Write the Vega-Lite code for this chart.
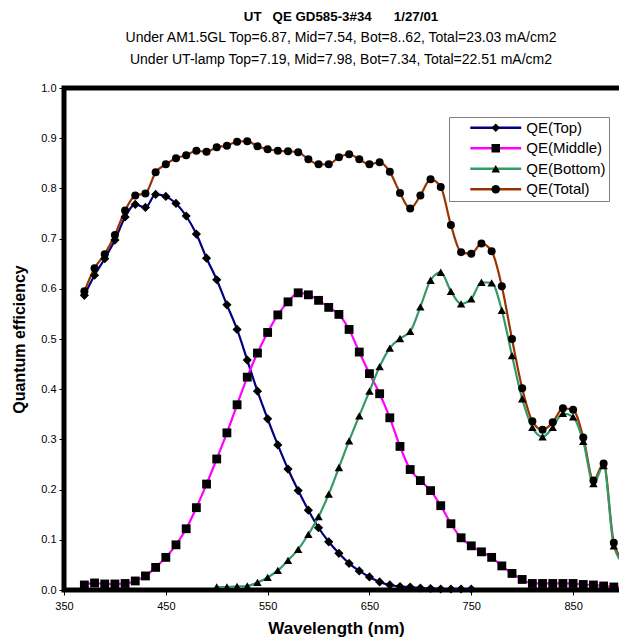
{
  "$schema": "https://vega.github.io/schema/vega-lite/v6.json",
  "width": 560,
  "height": 502,
  "autosize": {"type": "none"},
  "padding": {"left": 64, "top": 88, "right": 0, "bottom": 52},
  "background": "white",
  "config": {
    "view": {"stroke": "black", "strokeWidth": 5},
    "font": "Liberation Sans"
  },
  "title": {
    "text": "UT\u00a0\u00a0 QE GD585-3#34\u00a0\u00a0\u00a0\u00a0\u00a0 1/27/01",
    "subtitle": [
      "Under AM1.5GL Top=6.87, Mid=7.54, Bot=8..62, Total=23.03 mA/cm2",
      "Under UT-lamp Top=7.19, Mid=7.98, Bot=7.34, Total=22.51 mA/cm2"
    ],
    "anchor": "middle",
    "dx": -3,
    "font": "Liberation Sans",
    "fontSize": 13.3,
    "fontWeight": "bold",
    "color": "black",
    "subtitleFont": "Liberation Sans",
    "subtitleFontSize": 14,
    "subtitleColor": "black",
    "subtitleLineHeight": 22,
    "subtitlePadding": 8,
    "offset": 15
  },
  "data": {
    "values": [
      {"wl": 370, "QE(Top)": 0.587, "QE(Middle)": 0.010, "QE(Bottom)": null, "QE(Total)": 0.595},
      {"wl": 380, "QE(Top)": 0.627, "QE(Middle)": 0.014, "QE(Bottom)": null, "QE(Total)": 0.641},
      {"wl": 390, "QE(Top)": 0.660, "QE(Middle)": 0.012, "QE(Bottom)": null, "QE(Total)": 0.669},
      {"wl": 400, "QE(Top)": 0.697, "QE(Middle)": 0.012, "QE(Bottom)": null, "QE(Total)": 0.707},
      {"wl": 410, "QE(Top)": 0.743, "QE(Middle)": 0.013, "QE(Bottom)": null, "QE(Total)": 0.756},
      {"wl": 420, "QE(Top)": 0.768, "QE(Middle)": 0.018, "QE(Bottom)": null, "QE(Total)": 0.786},
      {"wl": 430, "QE(Top)": 0.762, "QE(Middle)": 0.028, "QE(Bottom)": null, "QE(Total)": 0.790},
      {"wl": 440, "QE(Top)": 0.788, "QE(Middle)": 0.045, "QE(Bottom)": null, "QE(Total)": 0.832},
      {"wl": 450, "QE(Top)": 0.784, "QE(Middle)": 0.065, "QE(Bottom)": null, "QE(Total)": 0.848},
      {"wl": 460, "QE(Top)": 0.770, "QE(Middle)": 0.090, "QE(Bottom)": null, "QE(Total)": 0.860},
      {"wl": 470, "QE(Top)": 0.745, "QE(Middle)": 0.122, "QE(Bottom)": null, "QE(Total)": 0.866},
      {"wl": 480, "QE(Top)": 0.709, "QE(Middle)": 0.164, "QE(Bottom)": null, "QE(Total)": 0.875},
      {"wl": 490, "QE(Top)": 0.661, "QE(Middle)": 0.211, "QE(Bottom)": null, "QE(Total)": 0.873},
      {"wl": 500, "QE(Top)": 0.618, "QE(Middle)": 0.261, "QE(Bottom)": 0.006, "QE(Total)": 0.882},
      {"wl": 510, "QE(Top)": 0.568, "QE(Middle)": 0.313, "QE(Bottom)": 0.006, "QE(Total)": 0.885},
      {"wl": 520, "QE(Top)": 0.519, "QE(Middle)": 0.369, "QE(Bottom)": 0.007, "QE(Total)": 0.893},
      {"wl": 530, "QE(Top)": 0.458, "QE(Middle)": 0.424, "QE(Bottom)": 0.008, "QE(Total)": 0.894},
      {"wl": 540, "QE(Top)": 0.396, "QE(Middle)": 0.472, "QE(Bottom)": 0.015, "QE(Total)": 0.884},
      {"wl": 550, "QE(Top)": 0.341, "QE(Middle)": 0.513, "QE(Bottom)": 0.025, "QE(Total)": 0.878},
      {"wl": 560, "QE(Top)": 0.289, "QE(Middle)": 0.548, "QE(Bottom)": 0.039, "QE(Total)": 0.875},
      {"wl": 570, "QE(Top)": 0.241, "QE(Middle)": 0.574, "QE(Bottom)": 0.059, "QE(Total)": 0.874},
      {"wl": 580, "QE(Top)": 0.198, "QE(Middle)": 0.592, "QE(Bottom)": 0.081, "QE(Total)": 0.872},
      {"wl": 590, "QE(Top)": 0.159, "QE(Middle)": 0.588, "QE(Bottom)": 0.111, "QE(Total)": 0.858},
      {"wl": 600, "QE(Top)": 0.124, "QE(Middle)": 0.577, "QE(Bottom)": 0.146, "QE(Total)": 0.848},
      {"wl": 610, "QE(Top)": 0.096, "QE(Middle)": 0.563, "QE(Bottom)": 0.191, "QE(Total)": 0.848},
      {"wl": 620, "QE(Top)": 0.073, "QE(Middle)": 0.549, "QE(Bottom)": 0.244, "QE(Total)": 0.862},
      {"wl": 630, "QE(Top)": 0.053, "QE(Middle)": 0.519, "QE(Bottom)": 0.297, "QE(Total)": 0.868},
      {"wl": 640, "QE(Top)": 0.038, "QE(Middle)": 0.474, "QE(Bottom)": 0.347, "QE(Total)": 0.858},
      {"wl": 650, "QE(Top)": 0.026, "QE(Middle)": 0.431, "QE(Bottom)": 0.396, "QE(Total)": 0.848},
      {"wl": 660, "QE(Top)": 0.016, "QE(Middle)": 0.391, "QE(Bottom)": 0.445, "QE(Total)": 0.852},
      {"wl": 670, "QE(Top)": 0.010, "QE(Middle)": 0.343, "QE(Bottom)": 0.482, "QE(Total)": 0.833},
      {"wl": 680, "QE(Top)": 0.007, "QE(Middle)": 0.286, "QE(Bottom)": 0.501, "QE(Total)": 0.791},
      {"wl": 690, "QE(Top)": 0.006, "QE(Middle)": 0.240, "QE(Bottom)": 0.515, "QE(Total)": 0.760},
      {"wl": 700, "QE(Top)": 0.004, "QE(Middle)": 0.218, "QE(Bottom)": 0.564, "QE(Total)": 0.786},
      {"wl": 710, "QE(Top)": 0.003, "QE(Middle)": 0.198, "QE(Bottom)": 0.617, "QE(Total)": 0.818},
      {"wl": 720, "QE(Top)": 0.002, "QE(Middle)": 0.168, "QE(Bottom)": 0.633, "QE(Total)": 0.803},
      {"wl": 730, "QE(Top)": 0.002, "QE(Middle)": 0.132, "QE(Bottom)": 0.595, "QE(Total)": 0.727},
      {"wl": 740, "QE(Top)": 0.002, "QE(Middle)": 0.104, "QE(Bottom)": 0.570, "QE(Total)": 0.673},
      {"wl": 750, "QE(Top)": 0.002, "QE(Middle)": 0.088, "QE(Bottom)": 0.580, "QE(Total)": 0.670},
      {"wl": 760, "QE(Top)": null, "QE(Middle)": 0.076, "QE(Bottom)": 0.613, "QE(Total)": 0.690},
      {"wl": 770, "QE(Top)": null, "QE(Middle)": 0.065, "QE(Bottom)": 0.612, "QE(Total)": 0.675},
      {"wl": 780, "QE(Top)": null, "QE(Middle)": 0.048, "QE(Bottom)": 0.557, "QE(Total)": 0.605},
      {"wl": 790, "QE(Top)": null, "QE(Middle)": 0.033, "QE(Bottom)": 0.467, "QE(Total)": 0.500},
      {"wl": 800, "QE(Top)": null, "QE(Middle)": 0.021, "QE(Bottom)": 0.381, "QE(Total)": 0.402},
      {"wl": 810, "QE(Top)": null, "QE(Middle)": 0.013, "QE(Bottom)": 0.324, "QE(Total)": 0.336},
      {"wl": 820, "QE(Top)": null, "QE(Middle)": 0.013, "QE(Bottom)": 0.305, "QE(Total)": 0.319},
      {"wl": 830, "QE(Top)": null, "QE(Middle)": 0.013, "QE(Bottom)": 0.324, "QE(Total)": 0.334},
      {"wl": 840, "QE(Top)": null, "QE(Middle)": 0.013, "QE(Bottom)": 0.352, "QE(Total)": 0.362},
      {"wl": 850, "QE(Top)": null, "QE(Middle)": 0.013, "QE(Bottom)": 0.345, "QE(Total)": 0.359},
      {"wl": 860, "QE(Top)": null, "QE(Middle)": 0.011, "QE(Bottom)": 0.296, "QE(Total)": 0.304},
      {"wl": 870, "QE(Top)": null, "QE(Middle)": 0.010, "QE(Bottom)": 0.212, "QE(Total)": 0.218},
      {"wl": 880, "QE(Top)": null, "QE(Middle)": 0.008, "QE(Bottom)": 0.248, "QE(Total)": 0.252},
      {"wl": 890, "QE(Top)": null, "QE(Middle)": 0.006, "QE(Bottom)": 0.088, "QE(Total)": 0.094},
      {"wl": 900, "QE(Top)": null, "QE(Middle)": 0.005, "QE(Bottom)": 0.052, "QE(Total)": 0.058}
    ]
  },
  "transform": [
    {"fold": ["QE(Top)", "QE(Middle)", "QE(Bottom)", "QE(Total)"], "as": ["series", "qe"]},
    {"filter": "datum.qe != null"}
  ],
  "encoding": {
    "x": {
      "field": "wl",
      "type": "quantitative",
      "scale": {"domain": [350, 900], "nice": false, "zero": false},
      "axis": {
        "title": "Wavelength (nm)",
        "values": [350, 450, 550, 650, 750, 850],
        "domain": false,
        "grid": false,
        "ticks": true,
        "tickSize": 5,
        "tickColor": "black",
        "labelFlush": false,
        "labelOverlap": false,
        "labelFont": "Liberation Sans",
        "labelFontSize": 11,
        "labelColor": "black",
        "labelPadding": 5,
        "titleFont": "Liberation Sans",
        "titleFontSize": 17,
        "titleFontWeight": "bold",
        "titleColor": "black",
        "titlePadding": 9,
        "titleX": 272
      }
    },
    "y": {
      "field": "qe",
      "type": "quantitative",
      "scale": {"domain": [0, 1], "nice": false},
      "axis": {
        "title": "Quantum efficiency",
        "values": [0, 0.1, 0.2, 0.3, 0.4, 0.5, 0.6, 0.7, 0.8, 0.9, 1.0],
        "format": ".1f",
        "domain": false,
        "grid": false,
        "tickSize": 5,
        "tickColor": "black",
        "labelFont": "Liberation Sans",
        "labelFontSize": 11,
        "labelColor": "black",
        "labelPadding": 3,
        "titleFont": "Liberation Sans",
        "titleFontSize": 16,
        "titleFontWeight": "bold",
        "titleColor": "black",
        "titlePadding": 13
      }
    }
  },
  "layer": [
    {
      "mark": {"type": "line", "interpolate": "monotone", "strokeWidth": 2.2},
      "encoding": {
        "color": {
          "field": "series",
          "type": "nominal",
          "scale": {
            "domain": ["QE(Top)", "QE(Middle)", "QE(Bottom)", "QE(Total)"],
            "range": ["#000080", "#FF00FF", "#339966", "#993300"]
          },
          "legend": {
            "title": null,
            "orient": "none",
            "legendX": 385,
            "legendY": 29,
            "symbolType": "M-6,0H6",
            "symbolSize": 72,
            "symbolStrokeWidth": 2.5,
            "labelFont": "Liberation Sans",
            "labelFontSize": 15,
            "labelColor": "black",
            "labelExpr": "datum.label + '\u00a0'",
            "labelOffset": 23,
            "padding": 3.25,
            "rowPadding": 4.5,
            "strokeColor": "#808080",
            "fillColor": "white",
            "symbolOffset": 36
          }
        }
      }
    },
    {
      "mark": {"type": "point", "filled": true, "opacity": 1, "color": "black", "strokeWidth": 0},
      "encoding": {
        "shape": {
          "field": "series",
          "type": "nominal",
          "sort": ["QE(Top)", "QE(Middle)", "QE(Bottom)", "QE(Total)"],
          "scale": {
            "range": ["diamond", "square", "triangle-up", "circle"]
          },
          "legend": {
            "title": null,
            "orient": "none",
            "legendX": 385,
            "legendY": 29,
            "symbolSize": 72,
            "symbolFillColor": "black",
            "symbolStrokeWidth": 0,
            "labelFont": "Liberation Sans",
            "labelFontSize": 15,
            "labelOpacity": 0,
            "labelOffset": 23,
            "padding": 3.25,
            "rowPadding": 4.5,
            "symbolOffset": 36
          }
        },
        "size": {
          "field": "series",
          "type": "nominal",
          "sort": ["QE(Top)", "QE(Middle)", "QE(Bottom)", "QE(Total)"],
          "scale": {
            "range": [85, 64, 80, 88]
          },
          "legend": null
        }
      }
    }
  ]
}
